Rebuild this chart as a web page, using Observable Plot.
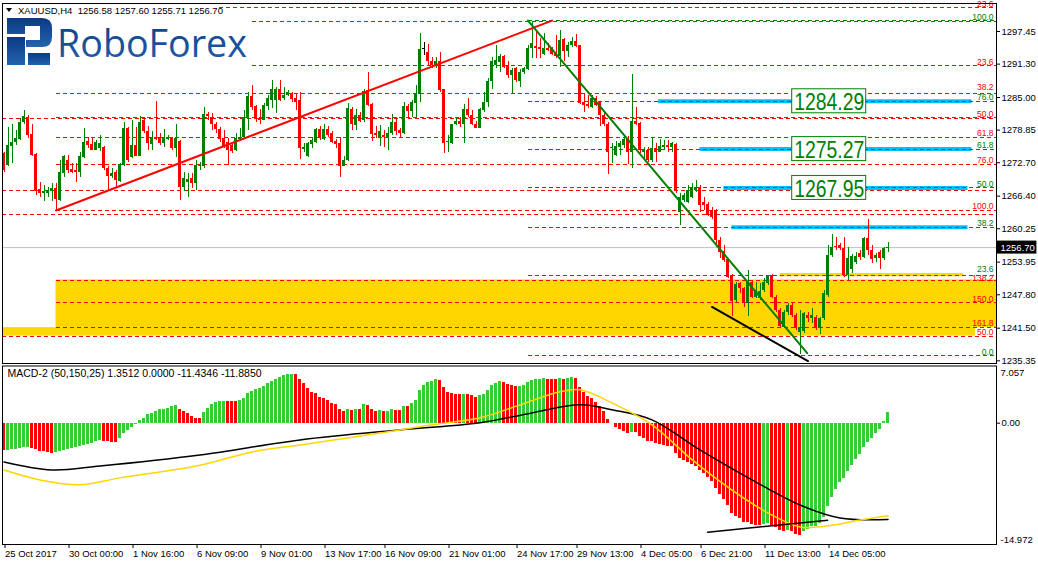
<!DOCTYPE html>
<html>
<head>
<meta charset="utf-8">
<script src="https://cdn.jsdelivr.net/npm/d3@7"></script>
<script src="https://cdn.jsdelivr.net/npm/@observablehq/plot@0.6"></script>
<style>
  html,body{margin:0;padding:0;background:#fff;}
  #wrap{position:relative;width:1038px;height:565px;overflow:hidden;background:#fff;}
  #main,#macd,#over{position:absolute;left:0;}
  #main{top:0;} #macd{top:364px;} #over{top:0;}
  svg{display:block;}
</style>
</head>
<body>
<div id="wrap"><div id="main"></div><div id="macd"></div><svg id="over" width="1038" height="80"></svg></div>
<script>
// ---------------- DATA ----------------
const symbol = "XAUUSD,H4";
const open = [1274.4,1272.2,1275.8,1276.6,1277.0,1280.2,1281.3,1278.0,1274.3,1267.6,
1266.9,1266.9,1267.3,1267.8,1265.6,1270.7,1273.1,1271.4,1271.2,1270.9,
1273.6,1276.7,1276.1,1275.1,1275.3,1275.5,1271.6,1270.1,1270.9,1269.2,
1272.2,1279.1,1273.6,1276.0,1273.9,1280.7,1278.6,1276.2,1277.4,1277.4,
1276.4,1277.1,1277.2,1275.3,1276.8,1268.1,1269.0,1269.7,1268.7,1271.9,
1271.9,1281.8,1281.3,1279.9,1278.9,1277.2,1276.6,1276.0,1275.0,1277.0,
1277.5,1281.3,1285.2,1283.3,1281.0,1280.7,1283.4,1284.4,1284.4,1286.6,
1284.8,1285.4,1285.8,1284.8,1284.4,1275.2,1273.8,1276.2,1276.6,1278.9,
1277.0,1278.9,1278.2,1276.8,1276.3,1272.0,1273.1,1282.7,1279.7,1281.7,
1280.7,1286.3,1283.7,1278.3,1277.5,1277.8,1277.5,1278.2,1280.3,1278.8,
1278.2,1283.3,1282.4,1283.8,1285.6,1294.0,1293.4,1291.7,1291.0,1291.7,
1286.5,1276.5,1276.3,1280.0,1280.5,1280.0,1282.7,1281.7,1279.9,1279.2,
1282.6,1284.0,1288.0,1291.0,1291.6,1292.8,1290.9,1289.2,1290.4,1288.0,
1289.7,1290.3,1294.2,1294.7,1294.5,1293.2,1294.3,1294.2,1293.4,1292.8,
1295.9,1293.6,1294.8,1295.6,1294.8,1284.0,1283.6,1283.2,1284.8,1284.0,
1281.6,1280.0,1275.3,1274.1,1275.6,1276.0,1277.1,1274.7,1280.5,1280.1,
1274.6,1275.0,1273.1,1275.3,1274.7,1275.5,1276.0,1275.5,1276.1,1263.3,
1265.6,1265.2,1266.2,1267.5,1268.0,1265.2,1264.8,1263.7,1263.7,1258.0,
1256.0,1254.5,1251.4,1246.7,1249.9,1249.0,1246.2,1250.1,1247.3,1247.1,
1248.6,1249.9,1251.4,1247.3,1244.8,1241.6,1244.5,1245.8,1243.9,1240.7,
1240.9,1243.9,1243.3,1243.5,1241.5,1243.3,1247.7,1255.2,1256.9,1257.1,
1256.5,1251.4,1252.6,1253.9,1255.6,1254.8,1258.4,1256.2,1254.6,1255.8,
1254.6,1256.58];
const high = [1274.6,1279.4,1280.0,1278.8,1281.0,1282.6,1281.6,1280.0,1274.4,1269.0,
1268.4,1268.1,1268.7,1268.7,1273.1,1274.1,1274.1,1272.5,1272.5,1274.7,
1279.1,1277.5,1277.5,1276.9,1277.8,1275.8,1271.9,1271.6,1271.2,1272.6,
1280.3,1279.4,1280.7,1279.4,1281.4,1281.3,1279.5,1278.5,1284.3,1278.2,
1278.9,1277.8,1277.5,1280.0,1276.9,1270.9,1270.7,1270.6,1273.1,1272.8,
1283.1,1282.1,1281.9,1280.2,1279.4,1278.8,1277.2,1276.6,1278.2,1279.1,
1282.6,1286.0,1287.3,1283.5,1282.7,1283.8,1285.4,1288.2,1286.9,1288.2,
1286.9,1286.3,1286.0,1285.7,1286.0,1276.3,1276.6,1277.5,1279.1,1279.5,
1279.9,1279.5,1278.5,1277.0,1277.4,1273.8,1283.8,1283.1,1282.7,1282.1,
1286.6,1289.8,1283.9,1279.5,1279.7,1278.8,1279.4,1281.8,1281.2,1279.1,
1284.1,1283.7,1284.4,1287.3,1297.0,1295.4,1295.0,1292.6,1292.6,1293.5,
1286.6,1277.8,1280.0,1281.0,1281.3,1283.6,1284.8,1282.6,1280.5,1283.0,
1286.0,1288.5,1292.6,1294.8,1293.2,1292.9,1291.7,1290.4,1290.7,1290.3,
1290.7,1294.8,1299.3,1297.3,1296.1,1297.0,1295.1,1294.5,1296.7,1297.6,
1296.1,1295.3,1296.4,1296.8,1294.9,1285.7,1285.4,1285.4,1285.1,1284.3,
1282.4,1280.3,1276.3,1276.7,1276.7,1277.7,1277.7,1289.3,1283.2,1280.3,
1275.6,1275.6,1277.3,1276.3,1277.1,1276.9,1276.9,1276.5,1276.3,1266.9,
1266.9,1268.4,1268.8,1269.4,1268.4,1266.2,1265.2,1264.3,1263.9,1258.6,
1257.1,1254.6,1251.6,1250.1,1250.1,1249.2,1252.4,1250.5,1250.1,1249.9,
1250.9,1251.5,1251.6,1247.7,1245.2,1244.8,1246.2,1246.2,1244.3,1244.8,
1244.5,1244.5,1245.2,1243.9,1243.5,1248.6,1257.1,1259.2,1258.6,1257.4,
1258.6,1256.7,1255.4,1255.8,1256.2,1258.6,1262.0,1257.1,1255.6,1256.2,
1256.7,1257.60];
const low = [1270.9,1272.0,1272.5,1276.0,1276.9,1280.0,1277.2,1273.8,1266.5,1266.2,
1265.3,1266.2,1265.3,1263.7,1265.3,1270.0,1270.6,1270.6,1269.0,1270.0,
1273.5,1275.3,1275.0,1275.0,1274.9,1271.2,1267.5,1269.7,1268.1,1269.0,
1271.9,1272.8,1273.5,1273.8,1273.8,1278.2,1275.0,1275.0,1276.9,1276.0,
1275.5,1276.9,1275.0,1273.6,1265.6,1267.3,1266.2,1267.8,1267.5,1271.2,
1271.6,1280.7,1278.8,1278.2,1276.6,1275.3,1272.2,1274.5,1274.9,1276.9,
1277.2,1278.8,1282.6,1280.3,1280.0,1280.6,1282.6,1282.9,1281.9,1284.3,
1284.4,1285.2,1284.1,1282.6,1273.4,1274.7,1273.7,1275.3,1276.3,1276.9,
1276.9,1277.5,1276.4,1275.3,1270.0,1271.9,1273.0,1278.8,1278.7,1280.3,
1280.3,1283.3,1276.8,1277.2,1275.8,1275.5,1275.0,1277.8,1277.8,1277.4,
1278.0,1281.3,1281.3,1281.3,1284.1,1292.9,1291.0,1290.4,1290.4,1286.0,
1274.5,1274.7,1276.2,1279.7,1279.4,1276.3,1281.3,1279.7,1279.1,1279.1,
1282.2,1283.2,1286.6,1290.4,1289.8,1290.4,1288.5,1285.7,1287.9,1286.9,
1289.3,1290.1,1292.3,1292.3,1292.3,1292.9,1293.6,1292.9,1292.3,1290.7,
1291.7,1292.6,1294.5,1294.5,1283.6,1282.1,1283.0,1283.0,1283.4,1279.6,
1279.6,1270.4,1272.5,1273.8,1274.1,1275.3,1272.3,1271.7,1279.7,1274.5,
1273.4,1272.8,1272.8,1272.8,1274.6,1275.2,1274.6,1274.6,1266.9,1260.9,
1265.2,1265.0,1266.0,1267.1,1263.3,1263.7,1262.6,1262.0,1256.7,1254.6,
1253.9,1250.9,1243.7,1246.4,1248.0,1245.4,1243.7,1247.1,1247.1,1246.7,
1248.2,1249.6,1247.1,1244.5,1241.6,1241.5,1243.9,1243.5,1241.1,1236.5,
1240.5,1242.6,1242.4,1241.1,1240.3,1243.0,1247.3,1254.8,1256.2,1256.2,
1251.1,1250.5,1251.9,1253.5,1254.3,1254.6,1255.2,1253.7,1253.9,1252.6,
1254.3,1255.71];
const close = [1271.2,1276.0,1276.6,1277.2,1280.3,1281.4,1277.8,1274.1,1267.3,1266.9,
1267.2,1267.5,1267.8,1265.7,1270.9,1273.9,1271.2,1270.9,1270.9,1273.8,
1276.6,1276.0,1275.1,1276.6,1276.4,1271.6,1270.1,1270.7,1269.4,1272.4,
1279.1,1273.1,1276.0,1273.9,1280.3,1278.5,1276.3,1277.5,1277.0,1276.3,
1277.4,1277.4,1275.3,1277.2,1268.1,1269.7,1269.5,1268.7,1272.2,1272.2,
1281.8,1281.4,1279.9,1278.9,1277.0,1275.6,1275.0,1274.9,1277.2,1277.5,
1281.3,1285.2,1283.2,1281.0,1280.7,1283.5,1284.8,1286.5,1286.6,1284.4,
1285.4,1286.0,1284.6,1284.1,1275.3,1275.5,1276.4,1276.9,1278.9,1277.2,
1278.9,1277.8,1276.6,1276.2,1272.0,1273.1,1282.9,1279.9,1281.6,1280.5,
1286.2,1283.5,1278.0,1277.8,1278.6,1277.4,1278.3,1280.3,1278.5,1278.2,
1283.3,1282.4,1284.1,1285.6,1294.1,1294.0,1291.7,1291.0,1291.7,1286.3,
1276.3,1276.8,1279.9,1280.5,1280.0,1282.7,1281.6,1280.0,1279.2,1282.7,
1284.0,1288.0,1291.7,1292.0,1292.8,1290.7,1289.2,1290.1,1288.2,1289.8,
1290.4,1294.3,1295.1,1294.3,1294.1,1294.2,1293.9,1293.2,1292.8,1295.8,
1293.6,1294.9,1295.6,1294.7,1283.8,1283.5,1283.4,1284.8,1283.5,1281.6,
1279.9,1274.7,1275.6,1275.8,1276.3,1277.1,1274.7,1280.5,1279.9,1275.0,
1275.0,1273.1,1275.3,1274.6,1275.8,1276.0,1275.5,1276.3,1267.2,1266.2,
1266.5,1267.5,1267.9,1268.0,1264.6,1264.6,1262.8,1262.4,1258.0,1255.8,
1254.3,1251.1,1246.5,1249.7,1249.0,1246.2,1250.1,1247.3,1248.6,1248.4,
1250.1,1251.4,1247.3,1244.8,1241.8,1244.5,1245.8,1243.9,1241.5,1241.5,
1244.3,1243.3,1243.9,1241.5,1243.3,1248.1,1255.2,1256.7,1256.7,1256.5,
1251.4,1254.7,1255.0,1255.0,1254.8,1258.4,1256.2,1254.5,1255.2,1254.6,
1256.5,1256.70];

// MACD-2 histogram (one value per bar)
const macdParams = [50,150,25];
const macdHist = [-3.4,-3.35,-3.3,-3.25,-3.15,-3.05,-3.0,-3.1,-3.3,-3.45,
-3.55,-3.65,-3.7,-3.65,-3.5,-3.35,-3.25,-3.15,-3.05,-2.9,
-2.75,-2.6,-2.45,-2.3,-2.15,-2.2,-2.3,-2.35,-2.4,-1.9,
-1.3,-0.9,-0.5,-0.2,0.32,0.62,1.03,1.24,1.44,1.65,
1.73,1.86,2.05,2.18,1.73,1.44,1.16,0.82,0.62,0.58,
1.32,1.86,2.26,2.60,2.67,2.70,2.68,2.66,2.64,2.80,
3.09,3.71,3.91,4.21,4.33,4.53,4.86,5.15,5.36,5.69,
5.89,5.98,6.02,5.98,5.36,4.86,4.33,3.83,3.63,3.22,
3.09,2.80,2.47,2.26,1.73,1.44,1.65,1.6,1.7,1.65,
2.3,2.2,1.7,1.5,1.55,1.4,1.45,1.7,1.6,1.55,
2.1,2.05,2.4,2.8,4.0,4.6,5.0,5.2,5.4,5.3,
4.4,3.8,3.7,3.6,3.5,3.6,3.55,3.4,3.2,3.4,
3.6,4.0,4.6,4.9,5.1,5.0,4.8,4.7,4.5,4.55,
4.6,5.0,5.3,5.35,5.4,5.5,5.45,5.4,5.35,5.5,
5.45,5.5,5.6,5.55,4.4,3.8,3.3,3.0,2.6,2.1,
1.5,0.5,-0.1,-0.5,-0.8,-1.0,-1.3,-1.1,-1.2,-1.6,
-1.9,-2.2,-2.3,-2.5,-2.6,-2.7,-2.85,-2.9,-3.8,-4.3,
-4.6,-4.9,-5.1,-5.3,-5.8,-6.2,-6.7,-7.2,-8.0,-8.8,
-9.4,-10.2,-11.1,-11.5,-11.8,-12.2,-12.3,-12.5,-12.6,-12.65,
-12.5,-12.4,-12.6,-12.9,-13.3,-13.4,-13.3,-13.4,-13.7,-13.8,
-13.4,-13.1,-12.8,-12.7,-12.4,-11.6,-10.3,-9.2,-8.2,-7.3,
-6.8,-6.0,-5.2,-4.5,-3.9,-3.0,-2.4,-1.9,-1.3,-0.8,
0.2,1.3512];
// MACD lines read at sample bars
const blackBar = [0,12,24,49,74,99,119,132,144,152,162,174,187,199,209,221];
const blackVal = [-4.79,-5.78,-5.28,-3.92,-2.07,-0.83,0.04,1.27,2.26,1.65,0.41,-3.3,-7.0,-10.1,-11.7,-11.885];
const yellowBar = [0,9,19,29,49,62,74,99,107,119,129,139,144,152,162,172,182,192,199,207,214,221];
const yellowVal = [-5.78,-7.0,-7.6,-6.75,-5.2,-3.55,-2.7,-0.83,-0.2,0.66,2.26,3.87,4.12,2.5,-0.2,-4.5,-8.25,-11.35,-12.8,-12.6,-11.96,-11.4346];

// price axis ticks and MACD scale
const priceTicks = [1297.45,1291.30,1285.00,1278.85,1272.70,1266.40,1260.25,1253.95,1247.80,1241.50,1235.35];
const macdMax = 7.057, macdMin = -14.972;
// time axis
const timeTickBar = [0,16,32,48,64,80,95,111,128,143,159,174,190,206];
const timeTickText = ["25 Oct 2017","30 Oct 00:00","1 Nov 16:00","6 Nov 09:00","9 Nov 01:00","13 Nov 17:00","16 Nov 09:00","21 Nov 01:00","24 Nov 17:00","29 Nov 13:00","4 Dec 05:00","6 Dec 21:00","11 Dec 13:00","14 Dec 05:00"];

// Fibonacci levels: set r = red grids, g = green grid
const fibPrice = [1299.3,1291.0,1285.7,1281.2,1277.5,1272.4,1263.7,1250.4,1246.3,1241.7,
                  1301.9,1281.0,1267.5,1262.9,1240.0,
                  1299.5,1284.29,1275.27,1267.95,1260.55,1251.4,1236.3];
const fibLabel = ["","23.6","38.2","50.0","61.8","76.0","100.0","138.2","150.0","161.8",
                  "23.6","","","","50.0",
                  "100.0","76.0","61.8","50.0","38.2","23.6","0.0"];
const fibSet   = ["r","r","r","r","r","r","r","r","r","r",
                  "r","r","r","r","r",
                  "g","g","g","g","g","g","g"];
const fibStart = [13,13,13,13,13,13,13,13,13,13,
                  -1,-1,-1,-1,-1,
                  131,131,131,131,131,131,131];
// highlighted target levels (blue)
const targetPrice = [1284.29,1275.27,1267.95,1260.55];
const targetStart = [163.6,174,180,182];
const targetEnd   = [242,242,241,241];
const targetLabelled = [true,true,true,false];
const targetLabelBar = 206.3;
// yellow zones
const zoneStart = [13,-1,194];
const zoneEnd   = [300,242.9,240];
const zoneHi    = [1250.6,1241.6,1251.8];
const zoneLo    = [1241.6,1240.0,1251.2];
// trend lines [bar, price]
const redTrendBar = [13,137], redTrendPrice = [1263.7,1299.5];
const greenTrendBar = [131,200.8], greenTrendPrice = [1299.5,1236.8];
const blackTrendBar = [177,201], blackTrendPrice = [1245.5,1235.3];
const macdTrendBar = [175.9,205.9], macdTrendVal = [-13.45,-11.97];

// ---------------- CHART ----------------
const FONT = "'Liberation Sans', Arial, sans-serif";
const N = open.length;
const bars = open.map((o,i)=>({i,o,h:high[i],l:low[i],c:close[i]}));
const cColor = d => d.c > d.o ? "#008000" : d.c < d.o ? "#ff0000" : "#000000";
const X = {domain:[0,248], range:[3.5,995.5]};
const xLeft = -0.375, xRight = 248.125;
const pxPerPrice = (360.3-31)/(1297.45-1235.35);
const onePx = 1/pxPerPrice;
const lastC = close[N-1];
const fibs = fibPrice.map((p,k)=>({k,p,label:fibLabel[k],set:fibSet[k],s:fibStart[k]}));
const fibCol = d => d.set === "g" ? "#008000" : "#ff0000";
// small vertical nudges for crowded level labels (in px)
const nudge = {2:-3, 7:1.5, 20:-2.5};
const targets = targetPrice.map((p,k)=>({p,s:targetStart[k],e:targetEnd[k],lab:targetLabelled[k]}));
const zones = zoneStart.map((s,k)=>({s,e:zoneEnd[k],hi:zoneHi[k],lo:zoneLo[k]}));
const pts = (b,v)=>b.map((x,k)=>({i:x,p:v[k]}));

const main = Plot.plot({
  width:1038, height:364, marginLeft:2, marginRight:42, marginTop:3, marginBottom:1,
  style:{fontFamily:FONT, fontSize:"9.5px", background:"#fff", color:"#000", overflow:"visible"},
  x:{...X, axis:null, label:null},
  y:{domain:[1235.35,1297.45], range:[360.3,31], axis:null, label:null},
  marks:[
    Plot.rect(zones,{x1:d=>Math.max(d.s,xLeft),x2:d=>Math.min(d.e,xRight),y1:"lo",y2:"hi",fill:"#FFD700"}),
    Plot.ruleY([lastC],{x1:()=>xLeft,x2:()=>xRight,stroke:"#C0C0C0"}),
    Plot.ruleY(targets,{y:"p",x1:"s",x2:"e",stroke:"#00BFFF",strokeWidth:4}),
    Plot.ruleY(fibs,{y:"p",x1:d=>Math.max(d.s,xLeft),x2:()=>xRight,stroke:fibCol,strokeDasharray:"4,3",shapeRendering:"crispEdges"}),
    Plot.ruleX(bars,{x:"i",y1:"l",y2:"h",stroke:cColor,shapeRendering:"crispEdges"}),
    Plot.rect(bars,{x1:d=>d.i-0.375,x2:d=>d.i+0.375,y1:d=>Math.min(d.o,d.c),y2:d=>Math.max(d.o,d.c,Math.min(d.o,d.c)+onePx),fill:cColor,shapeRendering:"crispEdges"}),
    Plot.line(pts(redTrendBar,redTrendPrice),{x:"i",y:"p",stroke:"#ff0000",strokeWidth:2}),
    Plot.line(pts(greenTrendBar,greenTrendPrice),{x:"i",y:"p",stroke:"#008000",strokeWidth:2}),
    Plot.line(pts(blackTrendBar,blackTrendPrice),{x:"i",y:"p",stroke:"#000",strokeWidth:2}),
    Plot.text(fibs.filter(d=>d.label),{y:d=>d.p - (nudge[d.k]||0)*onePx,text:"label",frameAnchor:"right",textAnchor:"end",lineAnchor:"bottom",dx:-3,dy:-1,fill:fibCol,fontSize:8.5}),
    Plot.rect(targets.filter(d=>d.lab),{x1:()=>targetLabelBar-9.25,x2:()=>targetLabelBar+9.25,y1:d=>d.p-12*onePx,y2:d=>d.p+12*onePx,fill:"#fff",stroke:"#008000"}),
    Plot.text(targets.filter(d=>d.lab),{x:()=>targetLabelBar,y:"p",text:d=>d.p.toFixed(2),fill:"#008000",fontSize:24,dy:1}),
    Plot.axisY({anchor:"right",ticks:priceTicks,tickSize:3,tickPadding:2,tickFormat:d=>d.toFixed(2),label:null}),
    Plot.rect([lastC],{x1:()=>xRight,x2:()=>xRight+10.1,y1:d=>d-6.5*onePx,y2:d=>d+6.5*onePx,fill:"#000"}),
    Plot.text([lastC],{y:d=>d,frameAnchor:"right",dx:4,textAnchor:"start",text:d=>d.toFixed(2),fill:"#fff"}),
    Plot.frame({stroke:"#000"})
  ]
});
document.getElementById("main").appendChild(main);
// narrow target labels like the original
main.querySelectorAll("text").forEach(t=>{
  if (targetPrice.map(p=>p.toFixed(2)).includes(t.textContent)) {
    t.setAttribute("textLength","70"); t.setAttribute("lengthAdjust","spacingAndGlyphs");
  }
});

const hist = macdHist.map((v,i)=>({i,v,up: i>0 && v>=macdHist[i-1]}));
const yellowLast = yellowVal[yellowVal.length-1], blackLast = blackVal[blackVal.length-1];
const macdTitle = `MACD-2 (${macdParams.join(",")}) ${macdHist[N-1].toFixed(4)} 0.0000 ${yellowLast.toFixed(4)} ${blackLast.toFixed(4)}`;
const macd = Plot.plot({
  width:1038, height:201, marginLeft:2, marginRight:42, marginTop:1.5, marginBottom:21,
  style:{fontFamily:FONT, fontSize:"9.5px", background:"#fff", color:"#000", overflow:"visible"},
  x:{...X, axis:null, label:null},
  y:{domain:[macdMin,macdMax], range:[180,1.5], axis:null, label:null},
  marks:[
    Plot.rect(hist,{x1:d=>d.i-0.375,x2:d=>d.i+0.375,y1:()=>0,y2:"v",fill:d=>d.up?"#32CD32":"#ff0000",shapeRendering:"crispEdges"}),
    Plot.line(blackBar.map((b,k)=>({i:b,v:blackVal[k]})),{x:"i",y:"v",stroke:"#000",curve:"catmull-rom"}),
    Plot.line(yellowBar.map((b,k)=>({i:b,v:yellowVal[k]})),{x:"i",y:"v",stroke:"#FFD700",curve:"catmull-rom"}),
    Plot.line(macdTrendBar.map((b,k)=>({i:b,v:macdTrendVal[k]})),{x:"i",y:"v",stroke:"#000",strokeWidth:1.5}),
    Plot.text([macdTitle],{frameAnchor:"top-left",dx:5,dy:4,lineAnchor:"top",textAnchor:"start",text:d=>d,fontSize:10.5}),
    Plot.text([macdMax],{frameAnchor:"top-right",dx:4,dy:3,lineAnchor:"top",textAnchor:"start",text:d=>d.toFixed(3)}),
    Plot.text([macdMin],{frameAnchor:"bottom-right",dx:4,dy:-2,lineAnchor:"bottom",textAnchor:"start",text:d=>d.toFixed(3)}),
    Plot.axisY({anchor:"right",ticks:[0],tickSize:3,tickPadding:2,tickFormat:()=>"0.00",label:null}),
    Plot.axisX({anchor:"bottom",ticks:timeTickBar,tickSize:4,tickPadding:2,textAnchor:"start",dx:1,label:null,tickFormat:d=>timeTickText[timeTickBar.indexOf(d)]}),
    Plot.frame({stroke:"#000"})
  ]
});
document.getElementById("macd").appendChild(macd);

// ---------------- header & logo overlay ----------------
const over = d3.select("#over");
const defs = over.append("defs");
const g = defs.append("linearGradient").attr("id","lg").attr("x1",0).attr("y1",0).attr("x2",0).attr("y2",1);
g.append("stop").attr("offset","0%").attr("stop-color","#0b3a85");
g.append("stop").attr("offset","100%").attr("stop-color","#2463ad");
over.append("rect").attr("x",3).attr("y",4).attr("width",216).attr("height",13).attr("fill","#fff");
over.append("rect").attr("x",3).attr("y",17).attr("width",249).attr("height",54).attr("fill","#fff");
over.append("path").attr("d","M6,8 L12,8 L9,12 Z").attr("fill","#000");
over.append("text").attr("x",18).attr("y",14).attr("font-family",FONT).attr("font-size","9.5px").attr("fill","#000")
  .attr("xml:space","preserve").style("white-space","pre")
  .text(`${symbol}  ${open[N-1].toFixed(2)} ${high[N-1].toFixed(2)} ${low[N-1].toFixed(2)} ${close[N-1].toFixed(2)}`);
// R mark
over.append("path").attr("fill","url(#lg)")
  .attr("d","M7,18 H42 Q52,18 52,28 V37 Q52,47 42,47 H26 V40 H40 V26 H25 V34 H7 Z");
over.append("rect").attr("x",7).attr("y",37).attr("width",18).attr("height",28).attr("fill","url(#lg)");
over.append("rect").attr("x",28).attr("y",53).attr("width",22).attr("height",12).attr("fill","url(#lg)");
over.append("text").attr("x",57).attr("y",56.5).attr("font-family","'Open Sans', 'DejaVu Sans', sans-serif")
  .attr("font-size","37.5px").attr("fill","url(#lg)").attr("textLength",190).attr("lengthAdjust","spacingAndGlyphs")
  .text("RoboForex");
</script>
</body>
</html>
